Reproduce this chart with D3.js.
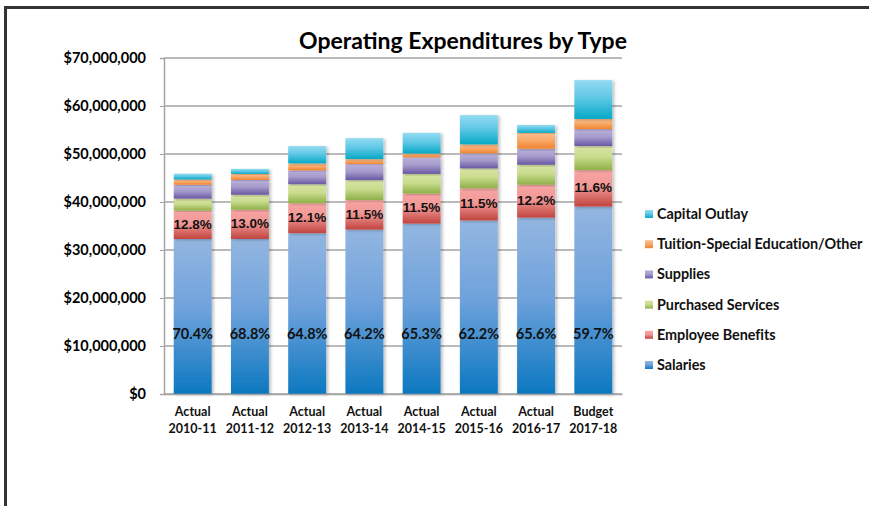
<!DOCTYPE html>
<html>
<head>
<meta charset="utf-8">
<script src="https://cdn.jsdelivr.net/npm/d3@7"></script>
<style>
  body { margin: 0; background: #fff; }
  svg { display: block; }
</style>
</head>
<body>
<div id="chart"></div>
<script>
// data (millions of dollars)
const categories = ["Actual 2010-11", "Actual 2011-12", "Actual 2012-13", "Actual 2013-14",
    "Actual 2014-15", "Actual 2015-16", "Actual 2016-17", "Budget 2017-18"];
const salaries = [32.3, 32.3, 33.5, 34.25, 35.5, 36.15, 36.75, 39.05];
const benefits = [5.9, 6.1, 6.25, 6.15, 6.25, 6.7, 6.85, 7.6];
const purchased = [2.5, 3.1, 3.95, 4.15, 4.1, 4.15, 4.15, 5.0];
const supplies = [2.9, 3.1, 2.9, 3.35, 3.45, 3.15, 3.35, 3.55];
const tuition = [1.1, 1.25, 1.45, 1.05, 0.8, 1.85, 3.3, 2.1];
const capital = [1.2, 1.05, 3.6, 4.35, 4.3, 6.1, 1.65, 8.1];
const salaryPct = ["70.4%", "68.8%", "64.8%", "64.2%", "65.3%", "62.2%", "65.6%", "59.7%"];
const benefitPct = ["12.8%", "13.0%", "12.1%", "11.5%", "11.5%", "11.5%", "12.2%", "11.6%"];
const yTicks = [0, 10, 20, 30, 40, 50, 60, 70];

const seriesNames = ["Salaries", "Employee Benefits", "Purchased Services", "Supplies",
    "Tuition-Special Education/Other", "Capital Outlay"];
const seriesValues = [salaries, benefits, purchased, supplies, tuition, capital];
// light (top) -> dark (bottom) per series
const seriesColors = [
    ["#93b6e0", "#6fa2dc", "#0c78c0"],
    ["#f7a5a4", "#f19896", "#c0443f"],
    ["#d6e4a3", "#c9dc8e", "#8fb048"],
    ["#b9b0d9", "#a79dcd", "#6a58a2"],
    ["#fbbf8e", "#f9aa6b", "#f0842e"],
    ["#94dbf2", "#60c8e6", "#05a9c6"]
];

const W = 869, H = 506;
const margin = { top: 58, left: 164, right: 247, bottom: 112 };

const svg = d3.select("#chart").append("svg")
    .attr("width", W).attr("height", H);

const defs = svg.append("defs");
seriesColors.forEach((c, i) => {
    const g = defs.append("linearGradient")
        .attr("id", "grad" + i)
        .attr("x1", 0).attr("y1", 0).attr("x2", 0).attr("y2", 1);
    g.append("stop").attr("offset", "0%").attr("stop-color", c[0]);
    g.append("stop").attr("offset", "45%").attr("stop-color", c[1]);
    g.append("stop").attr("offset", "100%").attr("stop-color", c[2]);
});
const shadow = defs.append("filter").attr("id", "shadow")
    .attr("x", "-20%").attr("y", "-5%").attr("width", "150%").attr("height", "115%");
shadow.append("feDropShadow").attr("dx", 2).attr("dy", 1).attr("stdDeviation", 1.5)
    .attr("flood-color", "#000").attr("flood-opacity", 0.25);

// outer frame
svg.append("rect")
    .attr("x", 5.5).attr("y", 7.5).attr("width", W + 20).attr("height", H + 20)
    .attr("fill", "none").attr("stroke", "#333").attr("stroke-width", 3);

const x = d3.scaleBand()
    .domain(categories)
    .range([margin.left, W - margin.right])
    .paddingInner(0.337)
    .paddingOuter(0.17);

const y = d3.scaleLinear()
    .domain([0, 70])
    .range([H - margin.bottom, margin.top]);

// gridlines
svg.append("g").selectAll("line")
    .data(yTicks)
    .join("line")
    .attr("x1", margin.left).attr("x2", W - margin.right)
    .attr("y1", d => y(d)).attr("y2", d => y(d))
    .attr("stroke", "#a3a3a3").attr("stroke-width", 1.5);

// y axis
const yAxis = svg.append("g")
    .attr("transform", `translate(${margin.left},0)`)
    .call(d3.axisLeft(y).tickValues(yTicks).tickSize(4).tickPadding(14)
        .tickFormat(d => "$" + d3.format(",")(d * 1000000)));
yAxis.select(".domain").attr("stroke", "#a3a3a3").attr("stroke-width", 1.5);
yAxis.selectAll(".tick line").attr("stroke", "#a3a3a3");
yAxis.selectAll("text")
    .attr("font-family", "Lato, 'Open Sans', sans-serif")
    .attr("font-weight", "bold").attr("font-size", 14.5).attr("fill", "#000");

// stacked bars
const rows = categories.map((c, i) => {
    const r = { category: c };
    seriesNames.forEach((s, j) => r[s] = seriesValues[j][i]);
    return r;
});
const stacked = d3.stack().keys(seriesNames)(rows);

const barGroups = svg.append("g").selectAll("g")
    .data(stacked)
    .join("g")
    .attr("fill", (d, i) => `url(#grad${i})`);

barGroups.selectAll("rect")
    .data(d => d)
    .join("rect")
    .attr("x", d => x(d.data.category))
    .attr("y", d => y(d[1]))
    .attr("width", x.bandwidth())
    .attr("height", d => y(d[0]) - y(d[1]))
    .attr("filter", "url(#shadow)");

// x axis
const xAxis = svg.append("g")
    .attr("transform", `translate(0,${y(0)})`)
    .call(d3.axisBottom(x).tickSize(0).tickFormat(""));
xAxis.select(".domain").attr("stroke", "#a3a3a3").attr("stroke-width", 1.5);

const xLabels = svg.append("g").selectAll("text")
    .data(categories)
    .join("text")
    .attr("x", d => x(d) + x.bandwidth() / 2)
    .attr("y", y(0) + 22)
    .attr("text-anchor", "middle")
    .attr("font-family", "Lato, 'Open Sans', sans-serif")
    .attr("font-weight", "bold").attr("font-size", 12.5).attr("fill", "#111");
xLabels.append("tspan").text(d => d.split(" ")[0]);
xLabels.append("tspan")
    .attr("x", d => x(d) + x.bandwidth() / 2)
    .attr("dy", 17)
    .text(d => d.split(" ")[1]);

// percentage labels
svg.append("g").selectAll("text")
    .data(categories)
    .join("text")
    .attr("x", d => x(d) + x.bandwidth() / 2)
    .attr("y", y(12.6))
    .attr("dy", "0.35em")
    .attr("text-anchor", "middle")
    .attr("font-family", "Lato, 'Open Sans', sans-serif")
    .attr("font-weight", "bold").attr("font-size", 14.5).attr("fill", "#111")
    .text((d, i) => salaryPct[i]);

svg.append("g").selectAll("text")
    .data(stacked[1])
    .join("text")
    .attr("x", d => x(d.data.category) + x.bandwidth() / 2)
    .attr("y", d => y((d[0] + d[1]) / 2) - 1)
    .attr("dy", "0.35em")
    .attr("text-anchor", "middle")
    .attr("font-family", "'Liberation Sans', Arial, sans-serif")
    .attr("font-weight", "bold").attr("font-size", 13.5).attr("fill", "#111")
    .text((d, i) => benefitPct[i]);

// title
svg.append("text")
    .attr("x", 463).attr("y", 49)
    .attr("text-anchor", "middle")
    .attr("font-family", "Lato, 'Open Sans', sans-serif")
    .attr("font-weight", "bold").attr("font-size", 23).attr("fill", "#000")
    .text("Operating Expenditures by Type");

// legend (top to bottom reverses the stack)
const legendItems = seriesNames.map((s, i) => ({ name: s, i })).reverse();
const legend = svg.append("g").selectAll("g")
    .data(legendItems)
    .join("g")
    .attr("transform", (d, k) => `translate(645,${214 + k * 30.2})`);
legend.append("rect")
    .attr("x", 0).attr("y", -4).attr("width", 8).attr("height", 8)
    .attr("fill", d => `url(#grad${d.i})`);
legend.append("text")
    .attr("x", 12).attr("dy", "0.35em")
    .attr("font-family", "Lato, 'Open Sans', sans-serif")
    .attr("font-weight", "bold").attr("font-size", 14.4).attr("fill", "#111")
    .attr("letter-spacing", -0.05)
    .text(d => d.name);
</script>
</body>
</html>
